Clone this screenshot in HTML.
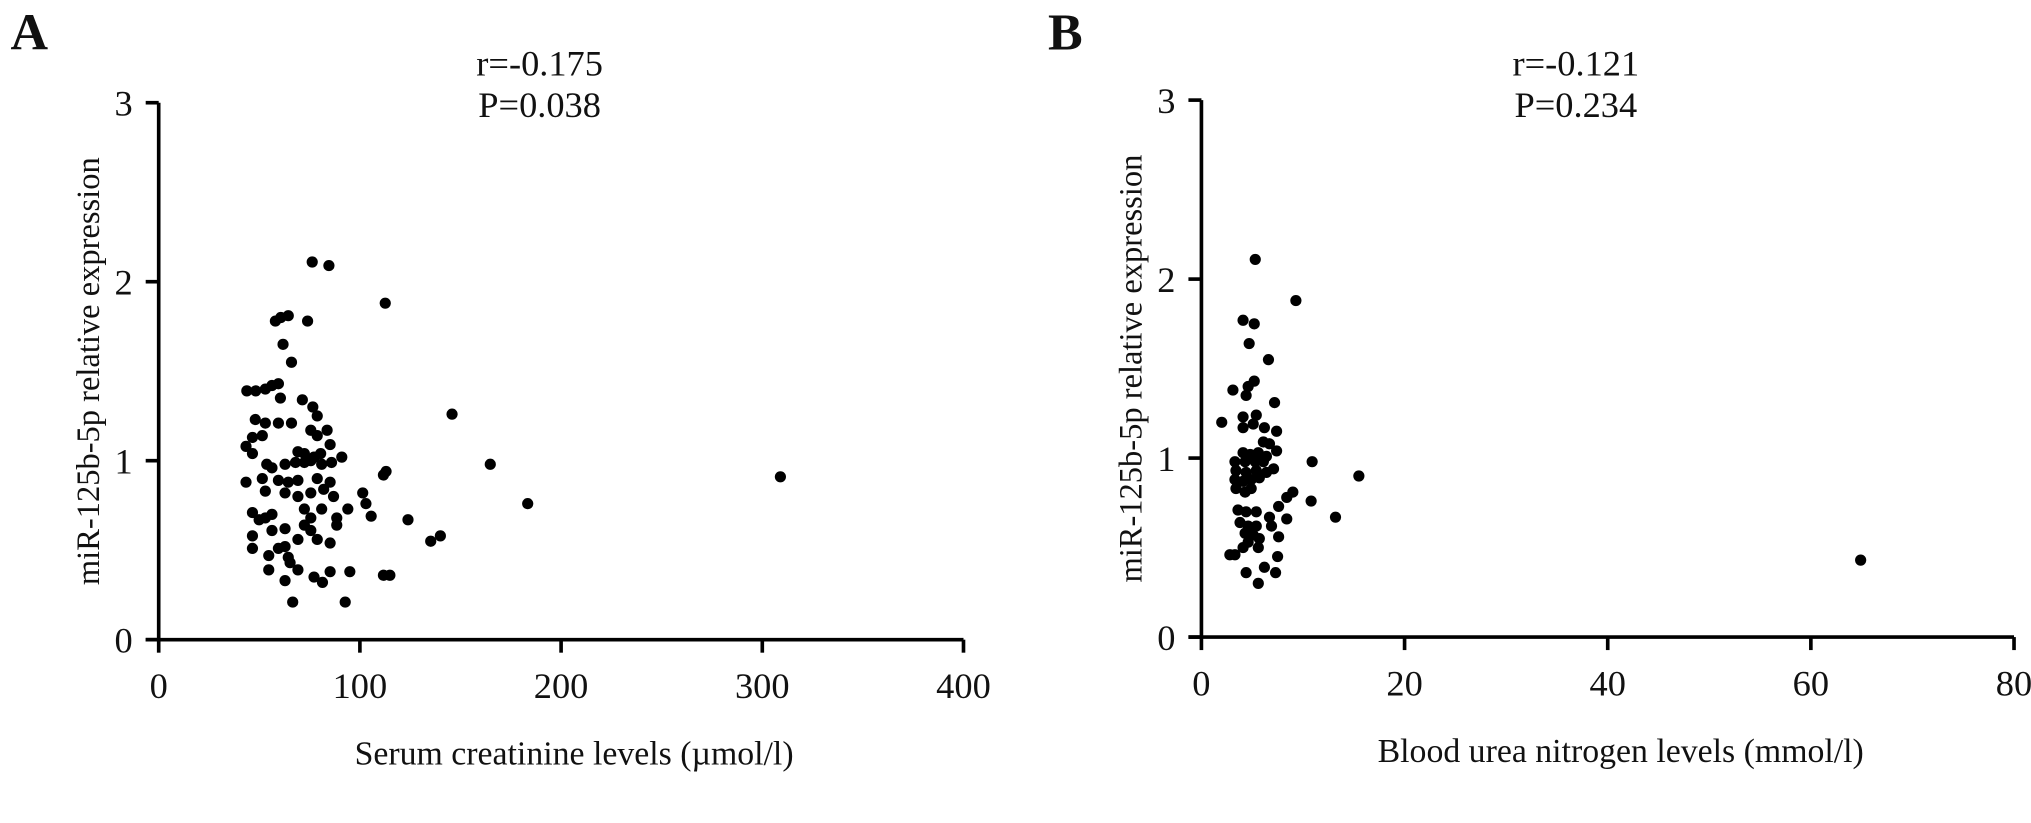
<!DOCTYPE html>
<html><head><meta charset="utf-8"><style>
html,body{margin:0;padding:0;background:#fff;}
svg{display:block;}
text{font-family:"Liberation Serif",serif;fill:#111;}
</style></head><body>
<svg id="fig" width="2031" height="823" viewBox="0 0 1562 633"></svg>
<script>
// Panel A data: serum creatinine vs expression
const creatX = [76.3,84.6,112.6,58,60.7,64.4,74,61.8,66,43.8,48.2,53,56.3,59.5,60.5,71.4,76.6,78.8,145.8,48,53,59.5,66,75.6,83.7,78.8,43.4,46.6,51.5,46.6,85.2,69.2,72.4,77.2,80.5,91,53.7,56.3,62.8,68,72.4,75.6,81,85.9,164.8,113,111.7,309,43.4,51.5,59.5,64.4,69.2,78.8,85.2,101.4,103,105.6,53,62.8,69.2,75.6,82,86.9,183.4,46.6,49.9,53,56.3,72.4,75.6,81,88.5,94,123.9,46.6,56.3,62.8,72.4,75.6,88.5,135.2,140,46.6,59.5,62.8,69.2,78.8,85.2,54.7,64.4,65.3,54.7,69.2,62.8,77.2,81.4,85.2,95,111.7,114.9,66.6,92.7];
const creatY = [2.11,2.09,1.88,1.78,1.80,1.81,1.78,1.65,1.55,1.39,1.39,1.40,1.42,1.43,1.35,1.34,1.30,1.25,1.26,1.23,1.21,1.21,1.21,1.17,1.17,1.14,1.08,1.13,1.14,1.04,1.09,1.05,1.04,1.02,1.04,1.02,0.98,0.96,0.98,0.99,0.99,1.0,0.98,0.99,0.98,0.94,0.92,0.91,0.88,0.90,0.89,0.88,0.89,0.90,0.88,0.82,0.76,0.69,0.83,0.82,0.80,0.82,0.84,0.80,0.76,0.71,0.67,0.68,0.70,0.73,0.68,0.73,0.68,0.73,0.67,0.58,0.61,0.62,0.64,0.61,0.64,0.55,0.58,0.51,0.51,0.52,0.56,0.56,0.54,0.47,0.46,0.43,0.39,0.39,0.33,0.35,0.32,0.38,0.38,0.36,0.36,0.21,0.21];
// Panel B data: blood urea nitrogen vs expression
const bunX = [5.3,9.3,4.1,5.2,4.7,6.6,5.2,4.6,3.1,4.4,7.2,2.0,4.1,5.4,4.1,5.1,6.2,7.4,6.1,6.7,7.4,4.1,4.8,5.6,6.4,3.3,4.3,5.3,6.1,7.1,10.9,3.4,4.4,5.4,6.4,3.3,4.1,4.9,5.7,15.5,3.4,4.3,4.9,9.0,8.4,7.6,10.8,3.6,4.4,5.4,6.7,8.4,13.2,3.8,4.6,5.4,6.9,4.3,5.1,5.7,7.6,4.6,5.6,4.1,2.8,3.3,7.5,6.2,7.3,4.4,5.6,64.9];
const bunY = [2.11,1.88,1.77,1.75,1.64,1.55,1.43,1.40,1.38,1.35,1.31,1.20,1.23,1.24,1.17,1.19,1.17,1.15,1.09,1.08,1.04,1.03,1.02,1.03,1.01,0.98,0.98,0.98,0.98,0.94,0.98,0.93,0.92,0.93,0.92,0.88,0.87,0.88,0.89,0.90,0.83,0.81,0.83,0.81,0.78,0.73,0.76,0.71,0.70,0.70,0.67,0.66,0.67,0.64,0.62,0.62,0.62,0.58,0.57,0.55,0.56,0.53,0.50,0.50,0.46,0.46,0.45,0.39,0.36,0.36,0.30,0.43];
const yTicks = [0,1,2,3];
const xTicksA = [0,100,200,300,400];
const xTicksB = [0,20,40,60,80];

const NS='http://www.w3.org/2000/svg';
const svg=document.getElementById('fig');
function mk(tag,attrs,parent){const e=document.createElementNS(NS,tag);for(const k in attrs)e.setAttribute(k,attrs[k]);(parent||svg).appendChild(e);return e;}

function panel(p){
  const g=mk('g',{});
  
  
  const sx=v=>p.x0+(v-p.xmin)/(p.xmax-p.xmin)*(p.x1-p.x0);
  const sy=v=>p.y0-(v/3)*(p.y0-p.y3);
  const ya=mk('line',{x1:p.x0,y1:p.y0,x2:p.x0,y2:p.y3,stroke:'#000','stroke-width':2.8},g);
  
  
  const xa=mk('line',{x1:p.x0-10,y1:p.y0,x2:p.x1,y2:p.y0,stroke:'#000','stroke-width':2.8},g);
  
  
  yTicks.forEach(t=>{
    mk('line',{x1:p.x0-10,y1:sy(t),x2:p.x0,y2:sy(t),stroke:'#000','stroke-width':2.8},g);
    const tx=mk('text',{x:p.x0-20,y:sy(t)+10,'text-anchor':'end','font-size':28},g);
    tx.textContent=t;
    
    
  });
  p.xt.forEach(t=>{
    mk('line',{x1:sx(t),y1:p.y0,x2:sx(t),y2:p.y0+10,stroke:'#000','stroke-width':2.8},g);
    const tx=mk('text',{x:sx(t),y:p.y0+45,'text-anchor':'middle','font-size':28},g);
    tx.textContent=t;
    
    
  });
  p.xs.forEach((v,i)=>{
    const c=mk('circle',{cx:sx(v),cy:sy(p.ys[i]),r:4.3,fill:'#000'},g);
    
    
  });
  const lab=mk('text',{x:p.lx,y:38,'font-size':40,'font-weight':'bold'},g);
  lab.textContent=p.label;
  
  
  const r=mk('text',{x:p.sc,y:58,'text-anchor':'middle','font-size':28},g);
  r.textContent=p.r;
  
  
  const pv=mk('text',{x:p.sc,y:90,'text-anchor':'middle','font-size':28},g);
  pv.textContent=p.pval;
  
  
  const yl=mk('text',{x:0,y:0,'text-anchor':'middle','font-size':25,transform:`translate(${p.x0-46},${(p.y0+p.y3)/2}) rotate(-90)`},g);
  yl.textContent='miR-125b-5p relative expression';
  
  
  const xl=mk('text',{x:(p.x0+p.x1)/2+10,y:p.y0+96,'text-anchor':'middle','font-size':26},g);
  xl.textContent=p.xtitle;
  
  
}
panel({id:'a',x0:122,x1:741,y0:492,y3:79,xmin:0,xmax:400,xt:xTicksA,xs:creatX,ys:creatY,label:'A',lx:8,sc:415,r:'r=-0.175',pval:'P=0.038',xtitle:'Serum creatinine levels (\u00b5mol/l)'});
panel({id:'b',x0:924,x1:1549,y0:490,y3:77,xmin:0,xmax:80,xt:xTicksB,xs:bunX,ys:bunY,label:'B',lx:806,sc:1212,r:'r=-0.121',pval:'P=0.234',xtitle:'Blood urea nitrogen levels (mmol/l)'});
</script>
</body></html>
